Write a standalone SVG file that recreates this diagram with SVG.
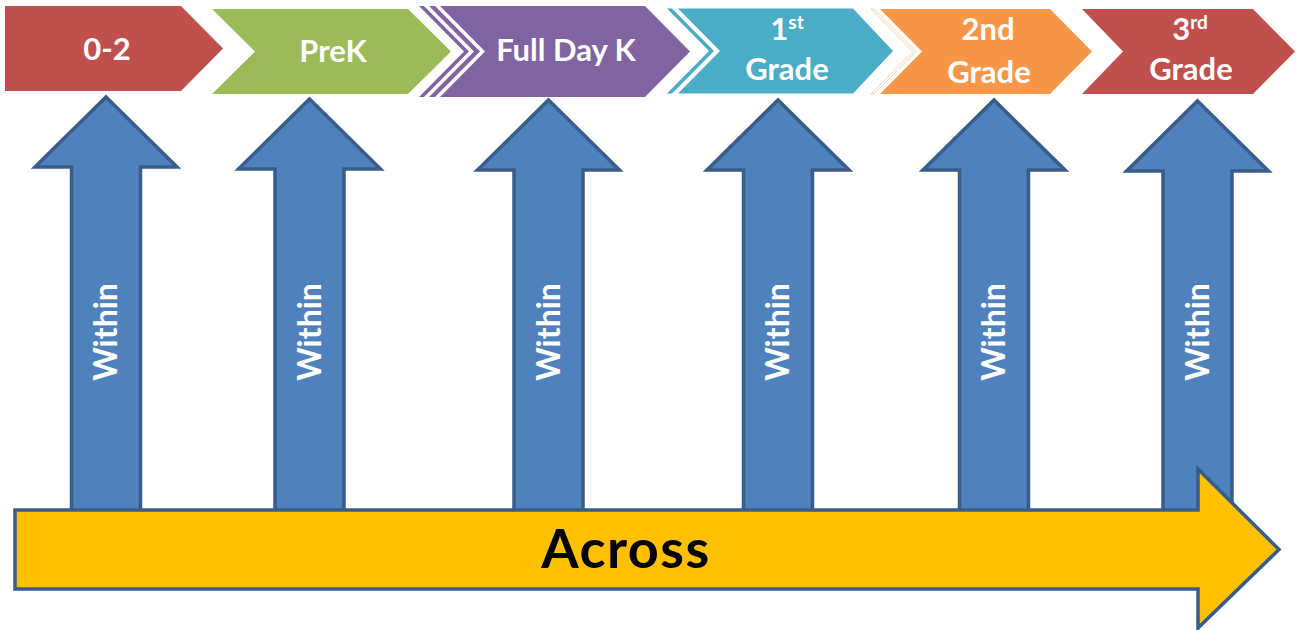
<svg xmlns="http://www.w3.org/2000/svg" xmlns:xlink="http://www.w3.org/1999/xlink" width="1296" height="630" viewBox="0 0 1296 630">
  <style>
    .lbl { font-family: Lato, "Open Sans", "Liberation Sans", sans-serif; font-weight: bold; fill: #ffffff; text-anchor: middle; }
    .top { font-size: 31px; }
    .sup { font-size: 19px; }
    .within { font-size: 32px; }
    .up { fill: #4f81bd; stroke: #385d8a; stroke-width: 3.5; stroke-linejoin: miter; }
    .across { fill: #ffc000; stroke: #385d8a; stroke-width: 3.5; }
    .acrossTxt { font-family: Lato, "Open Sans", "Liberation Sans", sans-serif; font-weight: bold; font-size: 54px; letter-spacing: 1.5px; fill: #000000; text-anchor: middle; }
  </style>
  <defs>
    <path id="uparrow" d="M0,0 L71,70 L34.5,70 L34.5,446 L-34.5,446 L-34.5,70 L-71,70 Z"/>
  </defs>
  <rect width="1296" height="630" fill="#ffffff"/>

  <g id="stage-0-2">
    <polygon points="5,6 181,6 223,48.5 181,91 5,91" fill="#c0504d"/>
    <text class="lbl top" x="107" y="60">0-2</text>
  </g>
  <g id="stage-prek">
    <polygon points="212,9 408,9 451,51.5 408,94 212,94 255,51.5" fill="#9bbb59"/>
    <text class="lbl top" x="333" y="62">PreK</text>
  </g>
  <g id="stage-fullday-k">
    <polygon points="419,6 424,6 469,51.5 424,97 419,97 464,51.5" fill="#8064a2"/>
    <polygon points="429,6 435,6 480,51.5 435,97 429,97 474,51.5" fill="#8064a2"/>
    <polygon points="440,6 645,6 690,51.5 645,97 440,97 485,51.5" fill="#8064a2"/>
    <text class="lbl top" x="566" y="61">Full Day K</text>
  </g>
  <g id="stage-1st">
    <polygon points="667,8.5 672,8.5 714,51 672,93.5 667,93.5 709,51" fill="#4bacc6"/>
    <polygon points="678,8.5 853,8.5 893,51 853,93.5 678,93.5 720,51" fill="#4bacc6"/>
    <text class="lbl top" x="787" y="40">1<tspan class="sup" dy="-11">st</tspan></text>
    <text class="lbl top" x="787" y="80">Grade</text>
  </g>
  <g id="stage-2nd">
    <polygon points="871,9 874,9 916,51.5 874,94 871,94 913,51.5" fill="#ffffff" stroke="#f9c49a" stroke-width="0.8"/>
    <polygon points="880,9 1050,9 1092,51.5 1050,94 880,94 922,51.5" fill="#f79646"/>
    <text class="lbl top" x="988" y="40">2nd</text>
    <text class="lbl top" x="989" y="83">Grade</text>
  </g>
  <g id="stage-3rd">
    <polygon points="1082,9 1253,9 1295,51.5 1253,94 1082,94 1123,51.5" fill="#c0504d"/>
    <text class="lbl top" x="1190" y="40">3<tspan class="sup" dy="-11">rd</tspan></text>
    <text class="lbl top" x="1191" y="80">Grade</text>
  </g>

  <g id="connectors">
    <g id="within-0-2">
      <use xlink:href="#uparrow" href="#uparrow" class="up" transform="translate(106,97)"/>
      <text class="lbl within" transform="translate(117,332) rotate(-90)">Within</text>
    </g>
    <g id="within-prek">
      <use xlink:href="#uparrow" href="#uparrow" class="up" transform="translate(309.5,99)"/>
      <text class="lbl within" transform="translate(320.5,332) rotate(-90)">Within</text>
    </g>
    <g id="within-fullday-k">
      <use xlink:href="#uparrow" href="#uparrow" class="up" transform="translate(548.5,100)"/>
      <text class="lbl within" transform="translate(559.5,332) rotate(-90)">Within</text>
    </g>
    <g id="within-1st">
      <use xlink:href="#uparrow" href="#uparrow" class="up" transform="translate(778,100)"/>
      <text class="lbl within" transform="translate(789,332) rotate(-90)">Within</text>
    </g>
    <g id="within-2nd">
      <use xlink:href="#uparrow" href="#uparrow" class="up" transform="translate(994,100)"/>
      <text class="lbl within" transform="translate(1005,332) rotate(-90)">Within</text>
    </g>
    <g id="within-3rd">
      <use xlink:href="#uparrow" href="#uparrow" class="up" transform="translate(1197.5,101)"/>
      <text class="lbl within" transform="translate(1208.5,332) rotate(-90)">Within</text>
    </g>
  </g>

  <g id="across">
    <polygon class="across" points="15,510 1198,510 1198,469 1279,549.5 1198,628 1198,589 15,589"/>
    <text class="acrossTxt" x="626" y="568">Across</text>
  </g>
</svg>
